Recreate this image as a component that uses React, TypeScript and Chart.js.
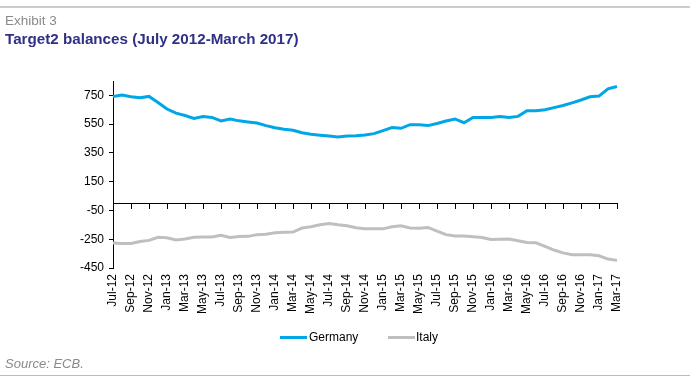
import React, { useEffect, useRef } from "react";
import { Chart, registerables } from "chart.js";

Chart.register(...registerables);

const months = [
  "Jul-12", "Aug-12", "Sep-12", "Oct-12", "Nov-12", "Dec-12",
  "Jan-13", "Feb-13", "Mar-13", "Apr-13", "May-13", "Jun-13", "Jul-13", "Aug-13", "Sep-13", "Oct-13", "Nov-13", "Dec-13",
  "Jan-14", "Feb-14", "Mar-14", "Apr-14", "May-14", "Jun-14", "Jul-14", "Aug-14", "Sep-14", "Oct-14", "Nov-14", "Dec-14",
  "Jan-15", "Feb-15", "Mar-15", "Apr-15", "May-15", "Jun-15", "Jul-15", "Aug-15", "Sep-15", "Oct-15", "Nov-15", "Dec-15",
  "Jan-16", "Feb-16", "Mar-16", "Apr-16", "May-16", "Jun-16", "Jul-16", "Aug-16", "Sep-16", "Oct-16", "Nov-16", "Dec-16",
  "Jan-17", "Feb-17", "Mar-17",
];

const germany = [
  743, 752, 741, 734, 743, 701,
  655, 627, 610, 590, 603, 597, 572, 586, 573, 565, 558, 540,
  525, 515, 508, 490, 480, 473, 467, 461, 467, 469, 475, 484,
  505, 527, 521, 546, 546, 540, 555, 572, 586, 560, 597, 597,
  597, 604, 597, 604, 644, 644, 650, 665, 680, 698, 718, 740,
  745, 795, 812,
];

const italy = [
  -277, -280, -280, -266, -258, -236,
  -240, -255, -249, -236, -235, -235, -223, -238, -231, -230, -218, -216,
  -205, -201, -200, -172, -163, -150, -140, -150, -157, -170, -177, -178,
  -178, -163, -157, -172, -173, -168, -193, -218, -228, -228, -232, -238,
  -252, -250, -249, -260, -273, -275, -300, -325, -345, -358, -358, -358,
  -365, -388, -397,
];

const yTicks = [-450, -250, -50, 150, 350, 550, 750];

const FONT = "'Liberation Sans', Arial, Helvetica, sans-serif";
const BLUE = "#00a6e6";
const GREY = "#bfbfbf";

export default function App() {
  const canvasRef = useRef<HTMLCanvasElement | null>(null);

  useEffect(() => {
    if (!canvasRef.current) return;
    const chart = new Chart(canvasRef.current, {
      type: "line",
      data: {
        labels: months,
        datasets: [
          {
            label: "Germany",
            data: germany,
            borderColor: BLUE,
            backgroundColor: BLUE,
            borderWidth: 3,
            pointRadius: 0,
            tension: 0,
            xAxisID: "x",
            yAxisID: "y",
          },
          {
            label: "Italy",
            data: italy,
            borderColor: GREY,
            backgroundColor: GREY,
            borderWidth: 3,
            pointRadius: 0,
            tension: 0,
            xAxisID: "x",
            yAxisID: "y",
          },
        ],
      },
      options: {
        animation: false,
        responsive: false,
        maintainAspectRatio: false,
        layout: { padding: { left: 0, top: 81, right: 79, bottom: 0 } },
        plugins: { legend: { display: false }, tooltip: { enabled: false } },
        scales: {
          x: {
            type: "category",
            position: "bottom",
            offset: false,
            grid: { display: false, drawTicks: false },
            border: { display: false },
            ticks: {
              autoSkip: false,
              maxRotation: 90,
              minRotation: 90,
              padding: 6,
              color: "#000",
              font: { family: FONT, size: 12 },
              callback: (_v: any, i: number) => (i % 2 === 0 ? months[i] : ""),
            },
            afterFit: (s: any) => {
              s.height = 113;
            },
          },
          x2: {
            type: "category",
            axis: "x",
            position: { y: 0 },
            offset: false,
            grid: {
              drawOnChartArea: false,
              drawTicks: true,
              tickLength: 5,
              color: "#000",
              lineWidth: 1,
            },
            border: { display: true, color: "#000", width: 1 },
            ticks: { display: false, autoSkip: false },
            afterBuildTicks: (s: any) => {
              s.ticks = s.ticks.filter((t: any) => t.value % 2 === 0);
            },
          },
          y: {
            type: "linear",
            position: "left",
            min: -450,
            max: 850,
            afterBuildTicks: (s: any) => {
              s.ticks = yTicks.map((v) => ({ value: v }));
            },
            grid: {
              drawOnChartArea: false,
              drawTicks: true,
              tickLength: 4,
              color: "#000",
            },
            border: { display: true, color: "#000", width: 1 },
            ticks: {
              color: "#000",
              padding: 5,
              font: { family: FONT, size: 12 },
            },
            afterFit: (s: any) => {
              s.width = 113;
            },
          },
        },
      } as any,
    });
    return () => chart.destroy();
  }, []);

  const abs = (o: React.CSSProperties): React.CSSProperties => ({ position: "absolute", ...o });

  return (
    <div
      style={{
        position: "fixed",
        left: 0,
        top: 0,
        width: 696,
        height: 381,
        background: "#fff",
        overflow: "hidden",
        fontFamily: FONT,
      }}
    >
      <canvas
        ref={canvasRef}
        width={696}
        height={381}
        style={abs({ left: 0, top: 0, width: 696, height: 381 })}
      />
      <div style={abs({ left: 0, top: 6, width: 690, height: 2, background: "#cccccc" })} />
      <div
        style={abs({
          left: 5,
          top: 14,
          fontSize: 13.5,
          lineHeight: "13.5px",
          color: "#8a8a8a",
          whiteSpace: "nowrap",
        })}
      >
        Exhibit 3
      </div>
      <div
        style={abs({
          left: 5,
          top: 31,
          fontSize: 15.2,
          lineHeight: "15.2px",
          fontWeight: "bold",
          color: "#2f3087",
          whiteSpace: "nowrap",
        })}
      >
        Target2 balances (July 2012-March 2017)
      </div>

      <div style={abs({ left: 280, top: 336, width: 27, height: 3, background: BLUE })} />
      <div style={abs({ left: 309, top: 331, fontSize: 12, lineHeight: "12px", color: "#000" })}>Germany</div>
      <div style={abs({ left: 388, top: 336, width: 27, height: 3, background: GREY })} />
      <div style={abs({ left: 416, top: 331, fontSize: 12, lineHeight: "12px", color: "#000" })}>Italy</div>

      <div
        style={abs({
          left: 5,
          top: 357,
          fontSize: 13,
          lineHeight: "13px",
          fontStyle: "italic",
          color: "#8a8a8a",
          whiteSpace: "nowrap",
        })}
      >
        Source: ECB.
      </div>
      <div style={abs({ left: 0, top: 375, width: 690, height: 1, background: "#bbbbbb" })} />
    </div>
  );
}
